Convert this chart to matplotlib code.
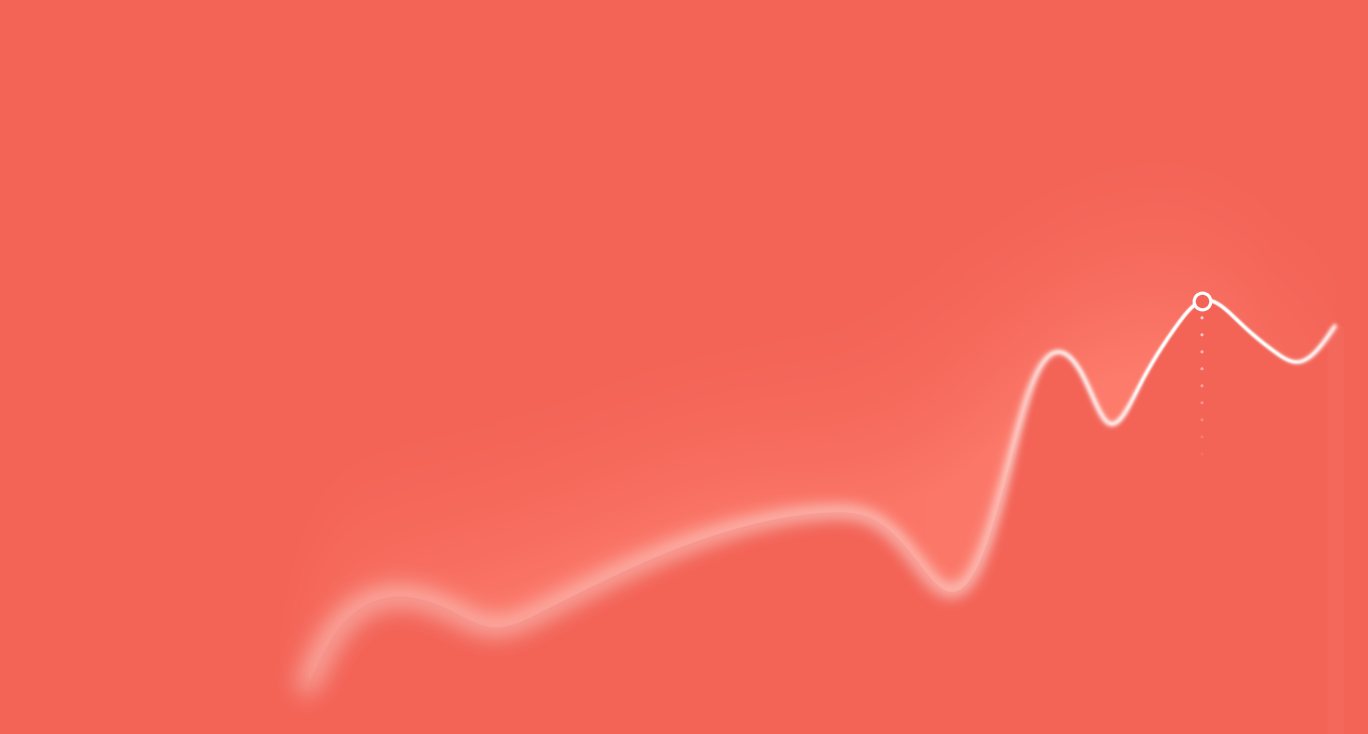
import numpy as np
import matplotlib
matplotlib.use("Agg")
import matplotlib.pyplot as plt

# values (x: time steps, y: value)
x_vals = [0, 2.5, 6, 10.5, 14.5, 18.7, 23.5, 29.5, 37.5, 45.5, 52.5, 57, 60.5, 64,
          67, 70, 72.5, 75.3, 78, 80.3, 83.5, 87, 89.7, 93.5, 97, 99.3, 101.5, 103]
y_vals = [11, 23.5, 32.3, 34.3, 31, 26.8, 30.5, 38, 46.8, 53, 55.5, 53.5, 45.5, 36,
          41, 63.5, 86, 95.5, 88.5, 77.8, 87.3, 101.5, 108.3, 102.8, 95.5, 93, 96.8, 102]
focus_idx = 22  # highlighted point

BG = "#F36356"

# blur radius (px) vs distance (px) from the highlighted point
DIST_PX = [0, 100, 150, 250, 400, 650, 850, 1000]
SIGMA_PX = [0.5, 1.3, 2.3, 4.8, 8.2, 11.5, 13, 13.5]
LEVELS = np.array([0.5, 1, 2, 3.5, 5.5, 8, 10.5, 13.5])

# halo strength along x
HALO_X = [0, 19.5, 44.5, 59.5, 69.5, 84.5, 94.5, 103]
HALO_A = [0.75, 0.8, 0.9, 0.85, 0.9, 1.0, 0.85, 0.5]


def natural_spline(x, y, n=2500):
    x = np.asarray(x, float)
    y = np.asarray(y, float)
    k = len(x)
    h = np.diff(x)
    A = np.zeros((k, k))
    r = np.zeros(k)
    A[0, 0] = A[-1, -1] = 1
    for i in range(1, k - 1):
        A[i, i - 1] = h[i - 1]
        A[i, i] = 2 * (h[i - 1] + h[i])
        A[i, i + 1] = h[i]
        r[i] = 6 * ((y[i + 1] - y[i]) / h[i] - (y[i] - y[i - 1]) / h[i - 1])
    M = np.linalg.solve(A, r)
    xs = np.linspace(x[0], x[-1], n)
    j = np.clip(np.searchsorted(x, xs) - 1, 0, k - 2)
    t0 = xs - x[j]
    t1 = x[j + 1] - xs
    hj = h[j]
    ys = (M[j] * t1 ** 3 / (6 * hj) + M[j + 1] * t0 ** 3 / (6 * hj)
          + (y[j] / hj - M[j] * hj / 6) * t1 + (y[j + 1] / hj - M[j + 1] * hj / 6) * t0)
    return xs, ys


def blur_stack(a, sigmas):
    F = np.fft.rfft2(a)
    fy = np.fft.fftfreq(a.shape[0])[:, None]
    fx = np.fft.rfftfreq(a.shape[1])[None, :]
    f2 = fx ** 2 + fy ** 2
    return [np.fft.irfft2(F * np.exp(-2 * np.pi ** 2 * s ** 2 * f2), s=a.shape) for s in sigmas]


class FocusBlur:
    # blur the line more the further it is from the highlighted point
    def __init__(self, ax, xs, ys, focus, half_px):
        self.ax, self.xs, self.ys, self.focus, self.half = ax, xs, ys, focus, half_px

    def __call__(self, im, dpi):
        pad = 45
        a = np.pad(im[..., 3], pad)
        H, W = a.shape
        pts = self.ax.transData.transform(np.column_stack([self.xs, self.ys]))
        x0 = np.floor(pts[:, 0].min() - self.half) - pad
        ytop = np.ceil(pts[:, 1].max() + self.half) + pad
        fx, fy = self.ax.transData.transform(self.focus)
        cols = x0 + np.arange(W)
        rows = ytop - np.arange(H)
        d = np.hypot(cols[None, :] - fx, rows[:, None] - fy)
        sig = np.interp(d, DIST_PX, SIGMA_PX)
        stack = np.stack(blur_stack(a, LEVELS))
        idx = np.clip(np.searchsorted(LEVELS, sig) - 1, 0, len(LEVELS) - 2)
        lo, hi = LEVELS[idx], LEVELS[idx + 1]
        w = np.clip((sig - lo) / (hi - lo), 0, 1)
        blo = np.take_along_axis(stack, idx[None], 0)[0]
        bhi = np.take_along_axis(stack, (idx + 1)[None], 0)[0]
        out = np.ones((H, W, 4))
        out[..., 3] = np.clip(((1 - w) * blo + w * bhi) * (1 + 0.14 * sig), 0, 1)
        return out, -pad, -pad


class Halo:
    # soft light rising from the curve
    def __init__(self, ax, xs, color, alpha, sigma, lead):
        self.ax, self.xs = ax, xs
        self.rgb = matplotlib.colors.to_rgb(color)
        self.alpha, self.sigma, self.lead = alpha, sigma, lead

    def __call__(self, im, dpi):
        lead = self.lead
        a0 = im[..., 3]
        # continue an inner column (softened) to the left so the light spills past the start
        k = np.exp(-0.5 * (np.arange(-60, 61) / 20.0) ** 2)
        col = np.convolve(np.pad(a0[:, 4], 60, mode="edge"), k / k.sum(), "valid")
        a = np.hstack([np.repeat(col[:, None], lead + 4, axis=1), a0[:, 4:]])
        h, w = a.shape
        pad = int(3 * self.sigma)
        c = np.pad((a <= 0.5).astype(float), pad)
        c[pad + h:, pad:pad + w] = 1
        b = blur_stack(c, [self.sigma])[0][pad:pad + h, pad:pad + w]
        ramp = np.ones(w)
        ramp[:2 * lead] = np.sin(np.linspace(0, np.pi / 2, 2 * lead)) ** 2
        x0 = self.ax.transData.transform((min(self.xs), 0))[0] - lead
        cols = x0 + np.arange(w)
        xdata = self.ax.transData.inverted().transform(
            np.column_stack([cols, np.zeros(w)]))[:, 0]
        s = np.interp(xdata, HALO_X, HALO_A) * ramp
        out = np.zeros((h, w, 4))
        out[..., :3] = self.rgb
        out[..., 3] = np.clip(a * np.clip(2.2 * b, 0, 1) * s[None, :] * self.alpha, 0, 1)
        return out, -lead, 0


fig = plt.figure(figsize=(13.68, 7.34), dpi=100, facecolor=BG)
ax = fig.add_axes([0, 0, 1, 1])
ax.set_facecolor(BG)
ax.set_xlim(-30.5, 106.3)
ax.set_ylim(0, 183.5)
ax.axis("off")

sx, sy = natural_spline(x_vals, y_vals)
fx, fy = x_vals[focus_idx], y_vals[focus_idx]

# halo above the curve
halo = ax.fill_between(sx, sy, 183.5, color="white", lw=0, zorder=1)
halo.set_agg_filter(Halo(ax, sx, "#FF8070", 0.95, 110, 70))

# faint column below the last point
ax.plot([x_vals[-1], x_vals[-1]], [y_vals[-1], 0], color="white", lw=12,
        alpha=0.035, zorder=2, solid_capstyle="butt")

# the line, sharp near the highlighted point and soft further away
line, = ax.plot(sx, sy, color="white", lw=2.6, solid_capstyle="round", zorder=3)
line.set_agg_filter(FocusBlur(ax, sx, sy, (fx, fy), 2.6 / 72 * 100 / 2))

# dotted drop line under the highlighted point
dot_y = fy - 4.25 * np.arange(1, 10)
dot_alpha = np.linspace(0.7, 0.08, len(dot_y))
dot_cols = [(1, 1, 1, a) for a in dot_alpha]
ax.scatter(np.full(len(dot_y), fx), dot_y, s=5, c=dot_cols, linewidths=0, zorder=4)

ax.plot(fx, fy, "o", ms=12, mfc=BG, mec="white", mew=2.3, zorder=5)

fig.savefig("out.png", dpi=100, facecolor=BG)
